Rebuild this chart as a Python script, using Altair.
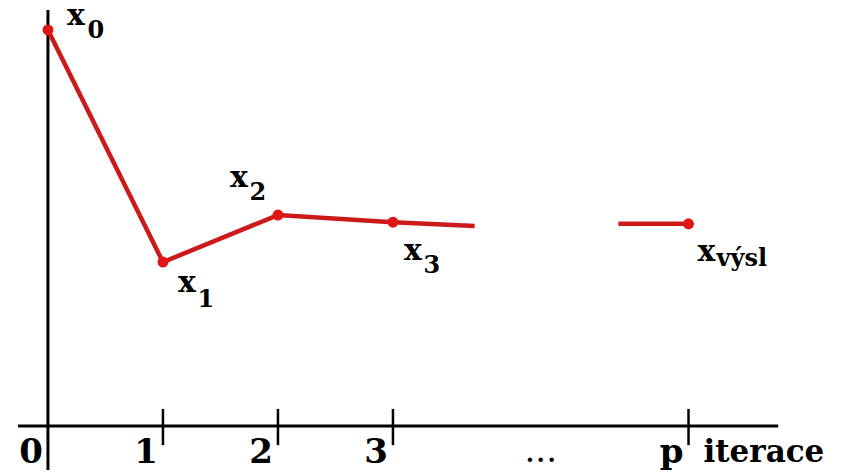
import altair as alt
import pandas as pd

# Iterations shown on the horizontal axis ("p" is the final iteration)
iter_labels = ["0", "1", "2", "3", "p"]
iter_pos = [0, 1, 2, 3, 5.57]

# Values of the iterates x_0 ... x_výsl
iterate_values = [9.52, 3.94, 5.07, 4.90, 4.86]
iterate_subs = ["0", "1", "2", "3", "výsl"]

# The path leaves x_3, breaks off, and resumes shortly before the last iterate
lead_out = (3.71, 4.81)
lead_in = (4.96, 4.86)

# Axis extents (data units)
x_axis_span = (-0.26, 6.35)
y_axis_span = (-1.06, 10.0)
tick_span = (-0.46, 0.41)

RED_LINE = "#cc1a1a"
RED_DOT = "#e01515"
FONT = "DejaVu Serif"

iter_df = pd.DataFrame({"it": iter_pos, "val": iterate_values, "sub": iterate_subs,
                        "lbl": iter_labels})

path_rows = [{"it": p, "val": v, "part": 0} for p, v in zip(iter_pos[:4], iterate_values[:4])]
path_rows.append({"it": lead_out[0], "val": lead_out[1], "part": 0})
path_rows.append({"it": lead_in[0], "val": lead_in[1], "part": 1})
path_rows.append({"it": iter_pos[4], "val": iterate_values[4], "part": 1})
path_df = pd.DataFrame(path_rows)

xs = alt.Scale(domain=[-0.417, 6.896], nice=False, zero=False)
ys = alt.Scale(domain=[-1.178, 10.24], nice=False, zero=False)
X = lambda f: alt.X(f, type="quantitative", scale=xs, axis=None)
Y = lambda f: alt.Y(f, type="quantitative", scale=ys, axis=None)

# Axes drawn as rules
h_axis = alt.Chart(pd.DataFrame({"a": [x_axis_span[0]], "b": [x_axis_span[1]], "y": [0]})).mark_rule(
    color="black", strokeWidth=3).encode(x=X("a"), x2="b", y=Y("y"))
v_axis = alt.Chart(pd.DataFrame({"x": [0], "a": [y_axis_span[0]], "b": [y_axis_span[1]]})).mark_rule(
    color="black", strokeWidth=3).encode(x=X("x"), y=Y("a"), y2="b")
ticks = alt.Chart(pd.DataFrame({"x": iter_pos[1:], "a": tick_span[0], "b": tick_span[1]})).mark_rule(
    color="black", strokeWidth=2.5).encode(x=X("x"), y=Y("a"), y2="b")

tick_labels = alt.Chart(iter_df).transform_calculate(zero="0").mark_text(
    font=FONT, fontWeight="bold", fontSize=34, align="right", baseline="alphabetic",
    dx=-5, dy=37, color="black").encode(x=X("it"), y=Y("zero:Q"), text="lbl:N")

dots_label = alt.Chart(pd.DataFrame({"x": [(iter_pos[3] + iter_pos[4]) / 2], "y": [0], "t": ["..."]})).mark_text(
    font=FONT, fontSize=34, align="center", baseline="alphabetic", dy=36, color="black"
).encode(x=X("x"), y=Y("y"), text="t:N")

axis_title = alt.Chart(pd.DataFrame({"x": [iter_pos[4]], "y": [0], "t": ["iterace"]})).mark_text(
    font=FONT, fontWeight="bold", fontSize=31, align="left", baseline="alphabetic",
    dx=15, dy=36, color="black").encode(x=X("x"), y=Y("y"), text="t:N")

line = alt.Chart(path_df).mark_line(color=RED_LINE, strokeWidth=4.5).encode(
    x=X("it"), y=Y("val"), detail="part:N")
points = alt.Chart(iter_df).mark_point(filled=True, color=RED_DOT, size=120, opacity=1).encode(
    x=X("it"), y=Y("val"))

# Point labels: "x" with a subscript; offsets (pixels) per iterate
label_offsets = {
    "0": dict(x=(28, -5), s=(48, 8), align="center"),
    "1": dict(x=(24, 30), s=(43, 45), align="center"),
    "2": dict(x=(-39, -28), s=(-20, -15), align="center"),
    "3": dict(x=(20, 38), s=(39, 51), align="center"),
    "výsl": dict(x=(18, 37), s=(28, 42), align="left"),
}
label_layers = []
for sub, off in label_offsets.items():
    base = alt.Chart(iter_df).transform_filter(alt.datum.sub == sub)
    label_layers.append(base.transform_calculate(t="'x'").mark_text(
        font=FONT, fontWeight="bold", fontSize=30, align="center", baseline="alphabetic",
        dx=off["x"][0], dy=off["x"][1], color="black").encode(x=X("it"), y=Y("val"), text="t:N"))
    label_layers.append(base.mark_text(
        font=FONT, fontWeight="bold", fontSize=24, align=off["align"], baseline="alphabetic",
        dx=off["s"][0], dy=off["s"][1], color="black").encode(x=X("it"), y=Y("val"), text="sub:N"))

chart = alt.layer(h_axis, v_axis, ticks, tick_labels, dots_label, axis_title, line, points,
                  *label_layers).properties(
    width=841, height=475, autosize=alt.AutoSizeParams(type="none"), padding=0,
    background="white").configure_view(stroke=None)

chart.save("out.html", embed_options={"renderer": "svg", "actions": False})
